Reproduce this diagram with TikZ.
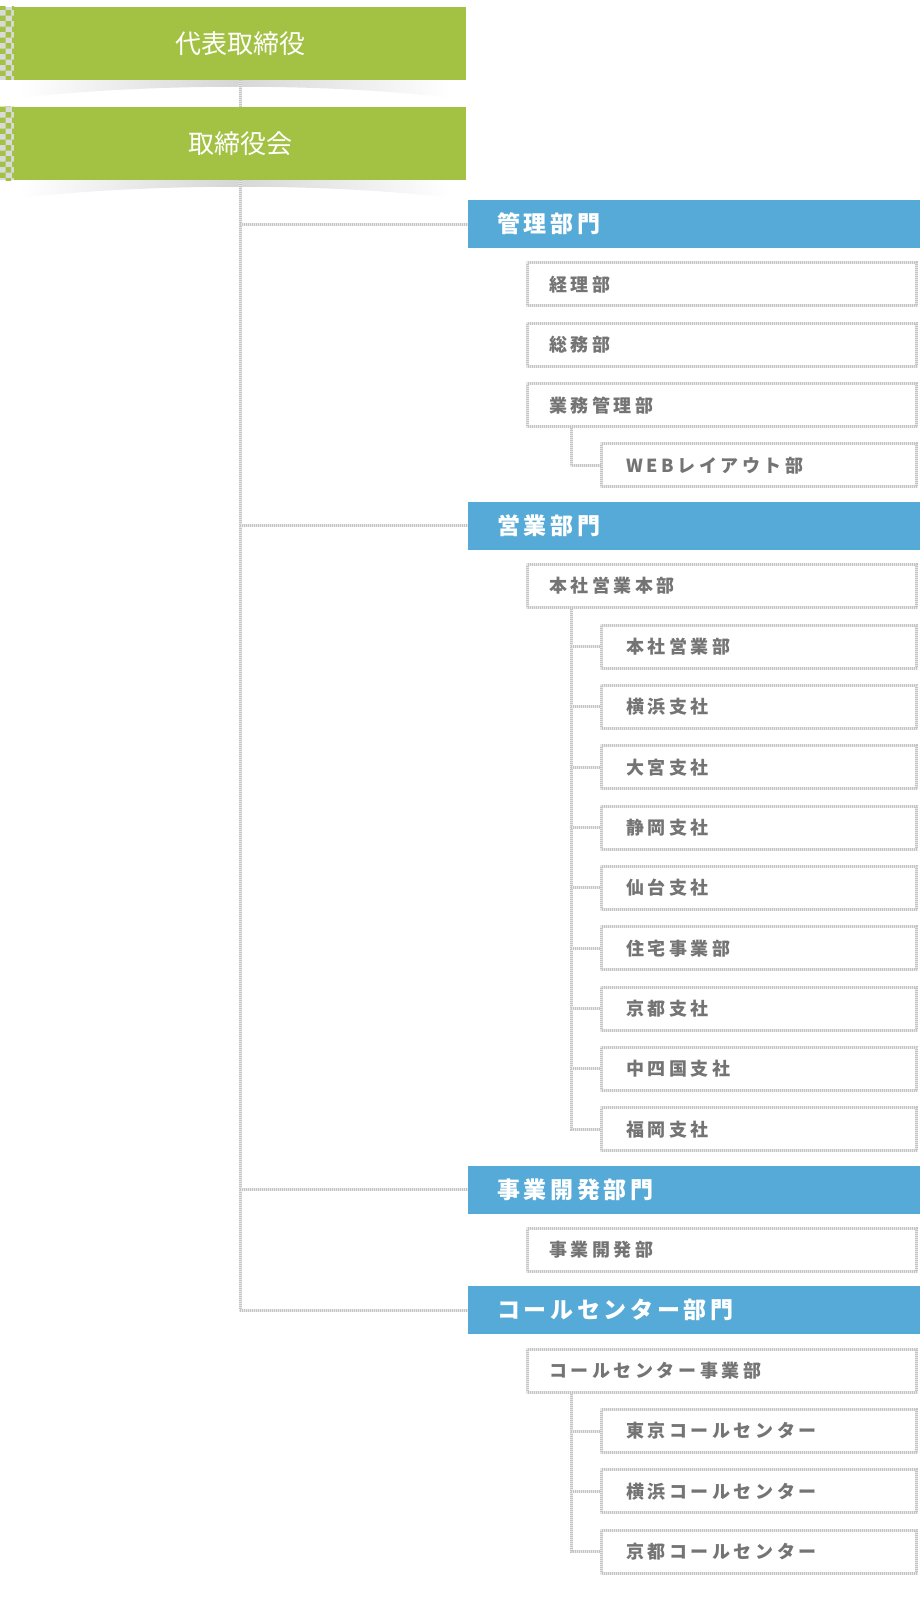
\documentclass[tikz,border=0pt]{standalone}
\usepackage{fontspec}
\usepackage{xcolor}
\usetikzlibrary{patterns}

\newfontfamily\jpfont{Noto Sans CJK JP}

\definecolor{boardgreen}{HTML}{A3C243}
\definecolor{deptblue}{HTML}{55AAD7}
\definecolor{unitgray}{HTML}{747474}
\definecolor{hatchlight}{HTML}{E8E8E8}
\definecolor{hatchdark}{HTML}{C4C4C4}

\tikzset{
  hatchline/.style={draw=hatchlight, line width=3pt,
    postaction={draw=hatchdark, line width=3pt, dash pattern=on 0.8pt off 1.2pt}},
  boardbox/.style={anchor=north west, fill=boardgreen, text=white,
    minimum width=452pt, minimum height=73pt, inner sep=0pt,
    font=\jpfont\fontsize{26pt}{28pt}\selectfont},
  deptbox/.style={anchor=west, fill=deptblue, text=white, align=left,
    minimum height=48pt, inner xsep=29pt, inner ysep=0pt, text width=394pt,
    font=\jpfont\fontsize{23pt}{25pt}\selectfont\bfseries\addfontfeatures{LetterSpace=16}},
  unitbox/.style={anchor=west, hatchline, fill=white, text=unitgray, align=left,
    minimum height=43pt, inner xsep=21.5pt, inner ysep=0pt, text width=346pt,
    font=\jpfont\fontsize{18pt}{20pt}\selectfont\bfseries\addfontfeatures{LetterSpace=20}},
  subunitbox/.style={unitbox, inner xsep=24.5pt, text width=266pt},
}

\begin{document}
\begin{tikzpicture}[x=1pt, y=-1pt]
\useasboundingbox (0,0) rectangle (920,1600);
%\draw[step=20pt,gray,very thin] (0,0) grid (920,1600); %background grid

% shadows and strips of the two top boxes
\shade[left color=white, right color=white, middle color=gray!32]
  (20,80) -- (450,80) -- (450,98) .. controls (330,83) and (150,83) .. (20,98) -- cycle;
\shade[left color=white, right color=white, middle color=gray!32]
  (20,180) -- (450,180) -- (450,198) .. controls (330,183) and (150,183) .. (20,198) -- cycle;
\fill[gray!30] (0,7) rectangle (14,80);
\fill[pattern=checkerboard, pattern color=boardgreen] (0,7) rectangle (14,80);
\fill[gray!30] (0,107) rectangle (14,180);
\fill[pattern=checkerboard, pattern color=boardgreen] (0,107) rectangle (14,180);

\node[boardbox] (ceo)   at (14,7)   {代表取締役};
\node[boardbox] (board) at (14,107) {取締役会};

% divisions
\node[deptbox] (dkanri) at (468,224.0)  {管理部門};
\node[deptbox] (deigyo) at (468,525.8)  {営業部門};
\node[deptbox] (djigyo) at (468,1189.6) {事業開発部門};
\node[deptbox] (dcall)  at (468,1310.3) {コールセンター部門};

% departments
\node[unitbox]    (keiri)      at (526,284.4)  {経理部};
\node[unitbox]    (somu)       at (526,344.7)  {総務部};
\node[unitbox]    (gyomu)      at (526,405.1)  {業務管理部};
\node[subunitbox] (web)        at (600,465.4)  {WEBレイアウト部};

\node[unitbox]    (honbu)      at (526,586.1)  {本社営業本部};
\node[subunitbox] (honsha)     at (600,646.5)  {本社営業部};
\node[subunitbox] (yokohama)   at (600,706.8)  {横浜支社};
\node[subunitbox] (omiya)      at (600,767.2)  {大宮支社};
\node[subunitbox] (shizuoka)   at (600,827.5)  {静岡支社};
\node[subunitbox] (sendai)     at (600,887.9)  {仙台支社};
\node[subunitbox] (jutaku)     at (600,948.2)  {住宅事業部};
\node[subunitbox] (kyoto)      at (600,1008.6) {京都支社};
\node[subunitbox] (chushikoku) at (600,1068.9) {中四国支社};
\node[subunitbox] (fukuoka)    at (600,1129.3) {福岡支社};

\node[unitbox]    (jigyo)      at (526,1250.0) {事業開発部};

\node[unitbox]    (callbu)     at (526,1370.7) {コールセンター事業部};
\node[subunitbox] (tokyocc)    at (600,1431.0) {東京コールセンター};
\node[subunitbox] (yokohamacc) at (600,1491.4) {横浜コールセンター};
\node[subunitbox] (kyotocc)    at (600,1551.7) {京都コールセンター};

% trunk
\draw[hatchline] (ceo.south) -- (board.north);
\draw[hatchline] (board.south) |- (dcall.west);
\draw[hatchline] (board.south |- dkanri.west) -- (dkanri.west);
\draw[hatchline] (board.south |- deigyo.west) -- (deigyo.west);
\draw[hatchline] (board.south |- djigyo.west) -- (djigyo.west);

% branches
\coordinate (gx) at ([xshift=45pt]gyomu.south west);
\draw[hatchline] (gx) |- (web.west);

\coordinate (hx) at ([xshift=45pt]honbu.south west);
\draw[hatchline] (hx) |- (fukuoka.west);
\draw[hatchline] (hx |- honsha.west)     -- (honsha.west);
\draw[hatchline] (hx |- yokohama.west)   -- (yokohama.west);
\draw[hatchline] (hx |- omiya.west)      -- (omiya.west);
\draw[hatchline] (hx |- shizuoka.west)   -- (shizuoka.west);
\draw[hatchline] (hx |- sendai.west)     -- (sendai.west);
\draw[hatchline] (hx |- jutaku.west)     -- (jutaku.west);
\draw[hatchline] (hx |- kyoto.west)      -- (kyoto.west);
\draw[hatchline] (hx |- chushikoku.west) -- (chushikoku.west);

\coordinate (cx) at ([xshift=45pt]callbu.south west);
\draw[hatchline] (cx) |- (kyotocc.west);
\draw[hatchline] (cx |- tokyocc.west)    -- (tokyocc.west);
\draw[hatchline] (cx |- yokohamacc.west) -- (yokohamacc.west);

\end{tikzpicture}
\end{document}
